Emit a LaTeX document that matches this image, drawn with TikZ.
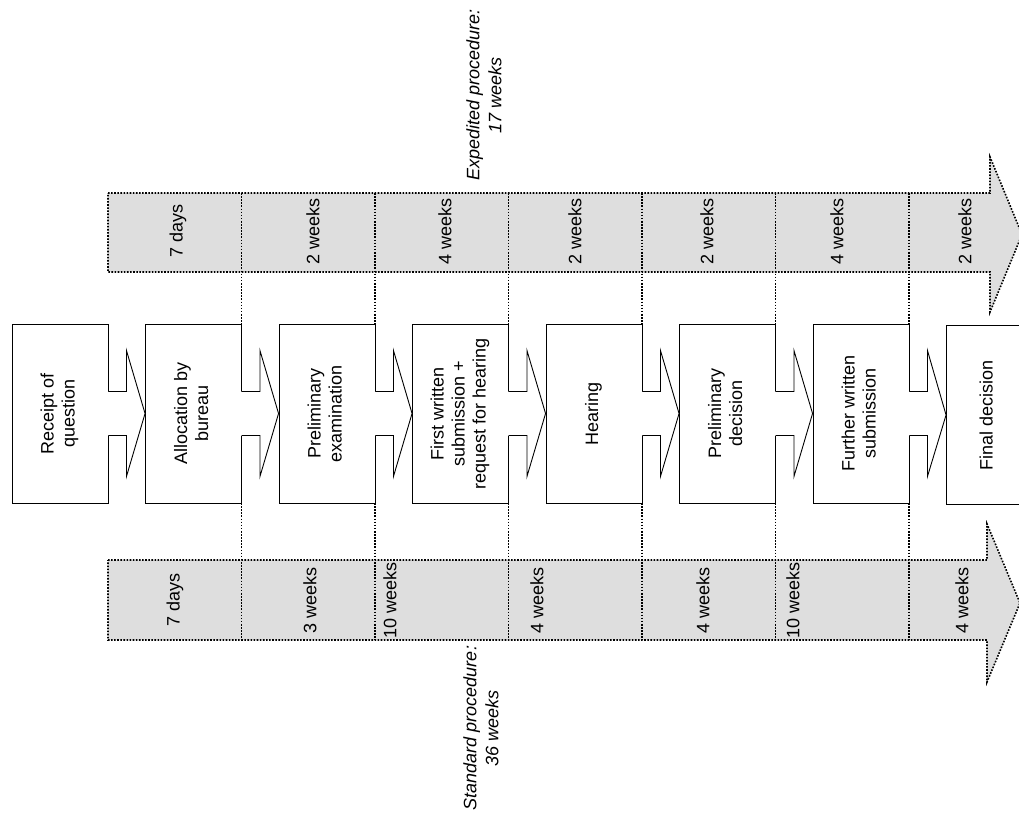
\documentclass[tikz,border=0pt]{standalone}
\usepackage{fontspec}
\setmainfont{Liberation Sans}
\usetikzlibrary{calc}
\newcommand\vtext[1]{\rotatebox{90}{\begin{tabular}{@{}c@{}}#1\end{tabular}}}
\newcommand\flowarrow[2]{%
  \fill[white] ($(#1.east)+(-1.4,22)$) -- ($(#1.east)+(18,22)$) -- ($(#1.east)+(18,63)$) -- (#2.west)
     -- ($(#1.east)+(18,-63)$) -- ($(#1.east)+(18,-22)$) -- ($(#1.east)+(-1.4,-22)$) -- cycle;
  \draw[arrowline] ($(#1.east)+(0,22)$) -- ++(18,0) -- ++(0,41) -- (#2.west)
     -- ($(#1.east)+(18,-63)$) -- ++(0,41) -- ++(-18,0);
}
\tikzset{
  procbox/.style={draw, line width=0.9pt, fill=white, minimum width=96pt, minimum height=179pt,
    inner sep=0pt, font=\fontsize{18}{21}\selectfont},
  arrowline/.style={line width=0.9pt, line join=miter},
  dotline/.style={line width=1.6pt, dash pattern=on 1.6pt off 1.5pt},
  band/.style={dotline, fill=black!13},
  bandtext/.style={rotate=90, font=\fontsize{18}{21}\selectfont, inner sep=0pt},
  titletext/.style={rotate=90, align=center, font=\fontsize{18}{22}\selectfont\itshape, inner sep=0pt},
}
\begin{document}
\begin{tikzpicture}[x=1pt,y=1pt]
\useasboundingbox (0,0) rectangle (1019,-816);
\clip (0,0) rectangle (1019,-816);

% duration bands
\draw[band] (108,-193) -- (990,-193) -- (990,-157) -- (1022,-234.5) -- (990,-312) -- (990,-272) -- (108,-272) -- cycle;
\draw[band] (108,-560) -- (987,-560) -- (987,-524) -- (1020,-603) -- (987,-682) -- (987,-640) -- (108,-640) -- cycle;

% dividers
\foreach \x in {241.5,375,508.5,642,775.5,909}
  \draw[dotline] (\x,-193) -- (\x,-640);

% process boxes
\node[procbox] (b1) at (60,-413.5) {\vtext{Receipt of\\question}};
\node[procbox] (b2) at (193.5,-413.5) {\vtext{Allocation by\\bureau}};
\node[procbox] (b3) at (327,-413.5) {\vtext{Preliminary\\examination}};
\node[procbox] (b4) at (460.5,-413.5) {\vtext{First written\\submission +\\request for hearing}};
\node[procbox] (b5) at (594,-413.5) {\vtext{Hearing}};
\node[procbox] (b6) at (727.5,-413.5) {\vtext{Preliminary\\decision}};
\node[procbox] (b7) at (861,-413.5) {\vtext{Further written\\submission}};
\node[procbox, minimum width=84pt] (b8) at (988.5,-415) {\vtext{Final decision}};

\flowarrow{b1}{b2}
\flowarrow{b2}{b3}
\flowarrow{b3}{b4}
\flowarrow{b4}{b5}
\flowarrow{b5}{b6}
\flowarrow{b6}{b7}
\flowarrow{b7}{b8}

% expedited durations
\node[bandtext] (e1) at (178,-231) {7 days};
\node[bandtext] (e2) at (313,-231) {2 weeks};
\node[bandtext] (e3) at (445,-231) {4 weeks};
\node[bandtext] (e4) at (575,-231) {2 weeks};
\node[bandtext] (e5) at (707,-231) {2 weeks};
\node[bandtext] (e6) at (837,-231) {4 weeks};
\node[bandtext] (e7) at (965,-231) {2 weeks};

% standard durations
\node[bandtext] (s1) at (175,-600) {7 days};
\node[bandtext] (s2) at (310,-600) {3 weeks};
\node[bandtext] (s3) at (390,-600) {10 weeks};
\node[bandtext] (s4) at (537,-600) {4 weeks};
\node[bandtext] (s5) at (703,-600) {4 weeks};
\node[bandtext] (s6) at (793,-600) {10 weeks};
\node[bandtext] (s7) at (962,-600) {4 weeks};

% titles
\node[titletext] (te) at (484,-95) {Expedited procedure:\\17 weeks};
\node[titletext] (ts) at (481,-728) {Standard procedure:\\36 weeks};
\end{tikzpicture}
\end{document}
